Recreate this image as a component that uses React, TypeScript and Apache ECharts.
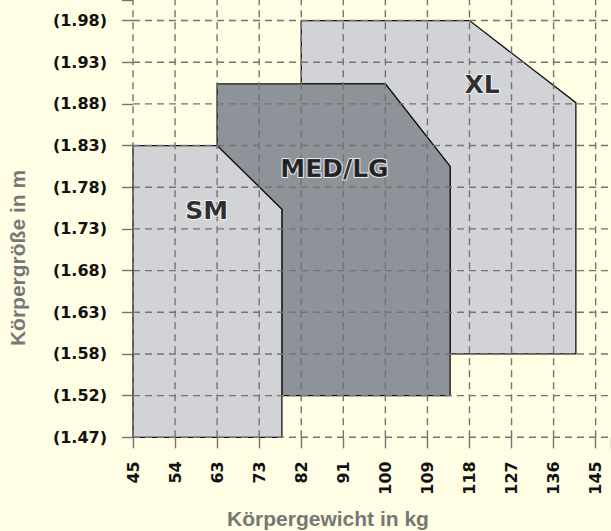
import React, { useEffect, useRef } from "react";
import * as echarts from "echarts";

const weightLabels = ["45", "54", "63", "73", "82", "91", "100", "109", "118", "127", "136", "145"];
const heightLabels = ["(1.47)", "(1.52)", "(1.58)", "(1.63)", "(1.68)", "(1.73)", "(1.78)", "(1.83)", "(1.88)", "(1.93)", "(1.98)"];
const xTitle = "Körpergewicht in kg";
const yTitle = "Körpergröße in m";

// polygon vertices in [weight index, height index]
const xlShape: [number, number][] = [[4, 10], [8, 10], [10.53, 8.03], [10.53, 2], [7.54, 2], [7.54, 6.5], [6, 8.48], [4, 8.48]];
const medShape: [number, number][] = [[2, 8.48], [6, 8.48], [7.54, 6.5], [7.54, 1], [3.54, 1], [3.54, 5.47], [2, 7]];
const smShape: [number, number][] = [[0, 0], [0, 7], [2, 7], [3.54, 5.47], [3.54, 0]];

const sizeNames = ["XL", "MED/LG", "SM"];
const sizeLabelPos: [number, number][] = [[8.3, 8.47], [4.79, 6.46], [1.75, 5.44]];

const BG = "#FFFDE3";
const LIGHT = "#D2D3D7";
const DARK = "#8E9299";
const GRID = "#747474";

const X_MAX = 11.365;
const Y_MAX = 10.493;

const isInt = (v: number) => Math.abs(v - Math.round(v)) < 1e-6;

export default function App() {
  const ref = useRef<HTMLDivElement>(null);
  useEffect(() => {
    if (!ref.current) return;
    const chart = echarts.init(ref.current, undefined, { renderer: "svg" });
    const shapes = [
      { shape: xlShape, fill: LIGHT },
      { shape: medShape, fill: DARK },
      { shape: smShape, fill: LIGHT },
    ];
    const gridLineStyle = { stroke: GRID, lineWidth: 1.4, lineDash: [7, 5] };
    const axisTick = { show: true, length: 11, lineStyle: { color: GRID, width: 1.4 } };
    const titleFont = 'bold 21px "Liberation Sans"';
    chart.setOption({
      animation: false,
      backgroundColor: BG,
      grid: { left: 133, right: -5, top: -5, bottom: 93.7, containLabel: false },
      graphic: [
        {
          type: "text",
          x: 328,
          y: 518,
          style: { text: xTitle, font: titleFont, fill: "#777777", textAlign: "center", textVerticalAlign: "middle" },
        },
        {
          type: "text",
          x: 17,
          y: 258,
          rotation: Math.PI / 2,
          style: { text: yTitle, font: titleFont, fill: "#777777", textAlign: "center", textVerticalAlign: "middle" },
        },
      ],
      xAxis: {
        type: "value",
        min: 0,
        max: X_MAX,
        interval: 1,
        axisLine: { show: false },
        axisTick,
        splitLine: { show: false },
        axisLabel: {
          rotate: 90,
          margin: 24,
          fontFamily: "DejaVu Sans",
          fontWeight: "bold",
          fontSize: 16,
          color: "#111",
          formatter: (v: number) => (isInt(v) ? weightLabels[Math.round(v)] ?? "" : ""),
        },
      },
      yAxis: {
        type: "value",
        min: 0,
        max: Y_MAX,
        interval: 1,
        axisLine: { show: false },
        axisTick,
        splitLine: { show: false },
        axisLabel: {
          margin: 26,
          fontFamily: "DejaVu Sans",
          fontWeight: "bold",
          fontSize: 16,
          color: "#111",
          formatter: (v: number) => (isInt(v) ? heightLabels[Math.round(v)] ?? "" : ""),
        },
      },
      series: [
        {
          type: "custom",
          z: 2,
          silent: true,
          clip: false,
          data: [[0, 0]],
          renderItem: (_p: any, api: any) => {
            const children: any[] = [];
            shapes.forEach((s, i) => {
              children.push({
                type: "polygon",
                z2: 1 + i,
                shape: { points: s.shape.map((pt) => api.coord(pt)) },
                style: { fill: s.fill, stroke: "#111", lineWidth: 1.3 },
              });
            });
            weightLabels.forEach((_, i) => {
              const a = api.coord([i, 0]);
              const b = api.coord([i, Y_MAX]);
              children.push({ type: "line", z2: 20, shape: { x1: a[0], y1: a[1], x2: b[0], y2: b[1] }, style: gridLineStyle });
            });
            heightLabels.forEach((_, j) => {
              const a = api.coord([0, j]);
              const b = api.coord([X_MAX, j]);
              children.push({ type: "line", z2: 20, shape: { x1: a[0], y1: a[1], x2: b[0], y2: b[1] }, style: gridLineStyle });
            });
            return { type: "group", children };
          },
        },
        {
          type: "scatter",
          z: 10,
          symbolSize: 0,
          silent: true,
          data: sizeLabelPos.map((p, i) => ({ value: p, name: sizeNames[i] })),
          label: {
            show: true,
            position: "inside",
            formatter: (p: any) => p.name,
            fontFamily: "DejaVu Sans",
            fontWeight: "bold",
            fontSize: 25,
            color: "#000",
            textBorderColor: "#fff",
            textBorderWidth: 2,
          },
        },
      ],
    } as any);
    return () => chart.dispose();
  }, []);
  return <div ref={ref} style={{ position: "fixed", left: 0, top: 0, width: 611, height: 531 }} />;
}
